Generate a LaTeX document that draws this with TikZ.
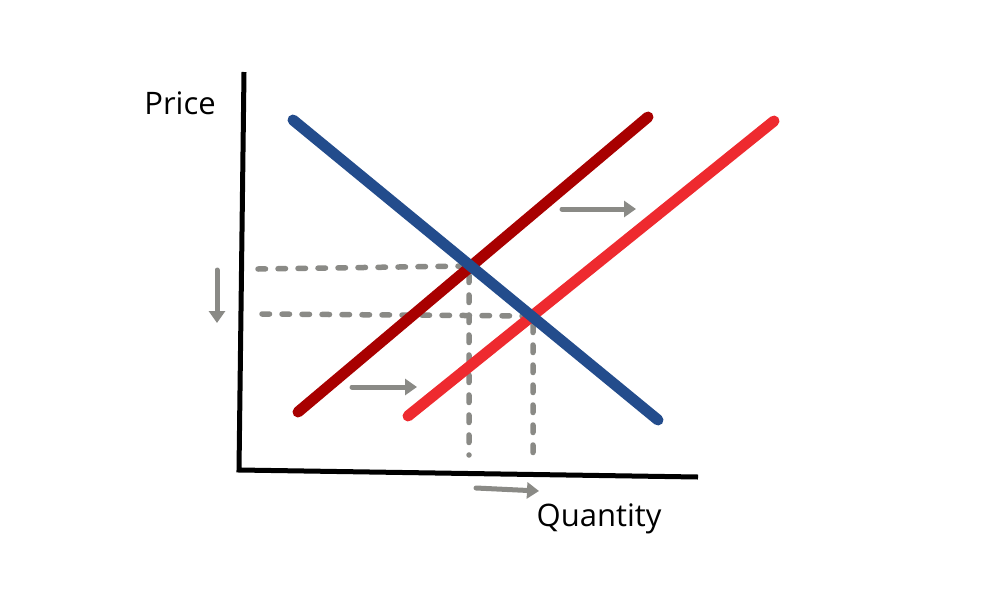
\documentclass[tikz,border=0pt]{standalone}
\usepackage{fontspec}
\setmainfont{Open Sans}
\usetikzlibrary{arrows.meta}
\definecolor{dblue}{HTML}{234C8C}
\definecolor{dred}{HTML}{A80000}
\definecolor{bred}{HTML}{EE2A2F}
\definecolor{dgray}{HTML}{8A8A86}
\tikzset{
  axis/.style={line width=5pt, black},
  curve/.style={line width=11pt, line cap=round},
  guide/.style={line width=5.5pt, dgray, line cap=round, dash pattern=on 7.5pt off 12.5pt},
  movearrow/.style={line width=5pt, dgray, line cap=round, -{Triangle[length=12pt,width=16pt]}},
  lbl/.style={font=\fontsize{31}{37}\selectfont, inner sep=0pt}
}
\begin{document}
\begin{tikzpicture}[x=1pt,y=-1pt]
\useasboundingbox (0,0) rectangle (1000,600);
% axes
\coordinate (ytop) at (244,72);
\coordinate (org) at (239,470);
\coordinate (xend) at (698,477);
\draw[axis] (ytop) -- (org) -- (xend);
\node[lbl] (price) at (180,103) {Price};
\node[lbl] (qty) at (599,519) {Quantity};
% guides
\coordinate (e1) at (469,266);
\coordinate (e2) at (533,316);
\coordinate (h1) at (258,269);
\coordinate (h2) at (262,314);
\coordinate (v1) at (469,455);
\coordinate (v2) at (533,460);
\draw[guide] (h1) -- (e1) -- (v1);
\draw[guide] (h2) -- (e2) -- (v2);
% curves
\coordinate (d1) at (293,120);
\coordinate (d2) at (658,420);
\coordinate (s1a) at (298,412);
\coordinate (s1b) at (648,117);
\coordinate (s2a) at (408,416);
\coordinate (s2b) at (774,121);
\draw[curve, dred] (s1a) -- (s1b);
\draw[curve, bred] (s2a) -- (s2b);
\draw[curve, dblue] (d1) -- (d2);
% shift arrows
\coordinate (a1s) at (217,270); \coordinate (a1e) at (217,323);
\coordinate (a2s) at (352,387); \coordinate (a2e) at (417,387);
\coordinate (a3s) at (562,209); \coordinate (a3e) at (636,209);
\coordinate (a4s) at (476,488); \coordinate (a4e) at (539,491);
\draw[movearrow] (a1s) -- (a1e);
\draw[movearrow] (a2s) -- (a2e);
\draw[movearrow] (a3s) -- (a3e);
\draw[movearrow] (a4s) -- (a4e);
\end{tikzpicture}
\end{document}
